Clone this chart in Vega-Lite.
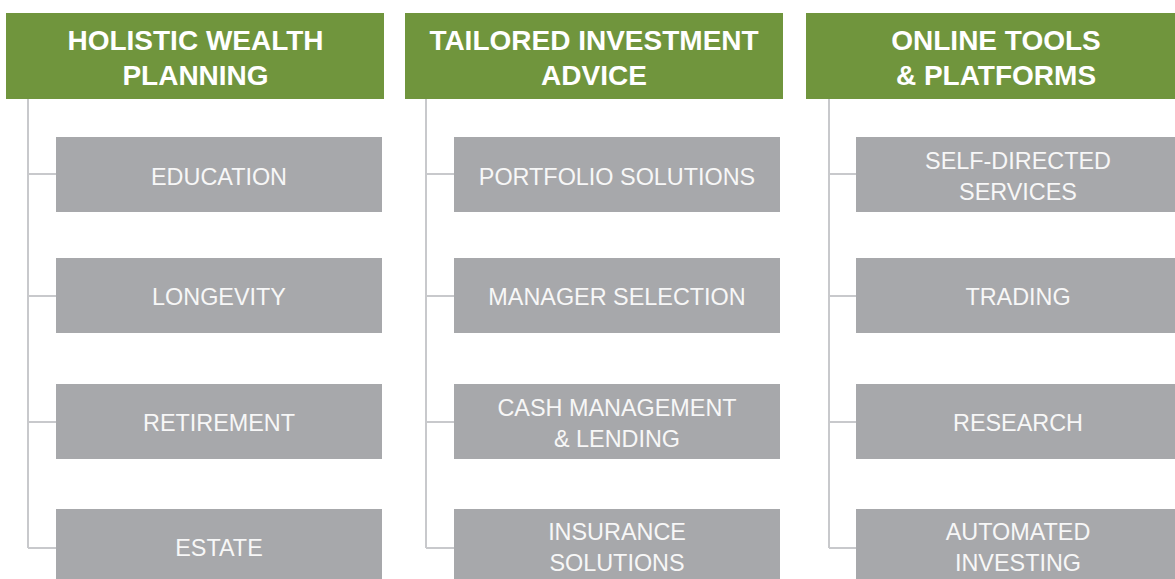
{
  "$schema": "https://vega.github.io/schema/vega-lite/v6.json",
  "width": 1175,
  "height": 579,
  "autosize": {"type": "fit", "contains": "padding"},
  "padding": 0,
  "background": "white",
  "config": {"view": {"stroke": null}},
  "datasets": {
    "headers": [
      {"label": "HOLISTIC WEALTH|PLANNING", "x": 6, "x2": 384, "y": 13, "y2": 99, "cx": 195.5, "cy": 42},
      {"label": "TAILORED INVESTMENT|ADVICE", "x": 405, "x2": 783, "y": 13, "y2": 99, "cx": 594, "cy": 42},
      {"label": "ONLINE TOOLS|& PLATFORMS", "x": 806, "x2": 1175, "y": 13, "y2": 99, "cx": 996, "cy": 42}
    ],
    "boxes": [
      {"label": "EDUCATION", "x": 56, "x2": 382, "y": 137, "y2": 212, "cx": 219, "cy": 177.5},
      {"label": "LONGEVITY", "x": 56, "x2": 382, "y": 258, "y2": 333, "cx": 219, "cy": 297.5},
      {"label": "RETIREMENT", "x": 56, "x2": 382, "y": 384, "y2": 459, "cx": 219, "cy": 423.5},
      {"label": "ESTATE", "x": 56, "x2": 382, "y": 509, "y2": 579, "cx": 219, "cy": 548.5},
      {"label": "PORTFOLIO SOLUTIONS", "x": 454, "x2": 780, "y": 137, "y2": 212, "cx": 617, "cy": 177.5},
      {"label": "MANAGER SELECTION", "x": 454, "x2": 780, "y": 258, "y2": 333, "cx": 617, "cy": 297.5},
      {"label": "CASH MANAGEMENT|& LENDING", "x": 454, "x2": 780, "y": 384, "y2": 459, "cx": 617, "cy": 408.5},
      {"label": "INSURANCE|SOLUTIONS", "x": 454, "x2": 780, "y": 509, "y2": 579, "cx": 617, "cy": 532.5},
      {"label": "SELF-DIRECTED|SERVICES", "x": 856, "x2": 1175, "y": 137, "y2": 212, "cx": 1018, "cy": 162},
      {"label": "TRADING", "x": 856, "x2": 1175, "y": 258, "y2": 333, "cx": 1018, "cy": 297.5},
      {"label": "RESEARCH", "x": 856, "x2": 1175, "y": 384, "y2": 459, "cx": 1018, "cy": 423.5},
      {"label": "AUTOMATED|INVESTING", "x": 856, "x2": 1175, "y": 509, "y2": 579, "cx": 1018, "cy": 532.5}
    ],
    "lines": [
      {"x": 28, "x2": 28, "y": 99, "y2": 548},
      {"x": 28, "x2": 56, "y": 174, "y2": 174},
      {"x": 28, "x2": 56, "y": 296, "y2": 296},
      {"x": 28, "x2": 56, "y": 422, "y2": 422},
      {"x": 28, "x2": 56, "y": 548, "y2": 548},
      {"x": 426, "x2": 426, "y": 99, "y2": 548},
      {"x": 426, "x2": 454, "y": 174, "y2": 174},
      {"x": 426, "x2": 454, "y": 296, "y2": 296},
      {"x": 426, "x2": 454, "y": 422, "y2": 422},
      {"x": 426, "x2": 454, "y": 548, "y2": 548},
      {"x": 829, "x2": 829, "y": 99, "y2": 548},
      {"x": 829, "x2": 856, "y": 174, "y2": 174},
      {"x": 829, "x2": 856, "y": 296, "y2": 296},
      {"x": 829, "x2": 856, "y": 422, "y2": 422},
      {"x": 829, "x2": 856, "y": 548, "y2": 548}
    ]
  },
  "resolve": {"scale": {"x": "shared", "y": "shared"}},
  "layer": [
    {
      "data": {"name": "lines"},
      "mark": {"type": "rule", "color": "#C8C9CC", "strokeWidth": 2},
      "encoding": {
        "x": {"field": "x", "type": "quantitative", "scale": {"domain": [0, 1175], "nice": false, "zero": false}, "axis": null},
        "x2": {"field": "x2"},
        "y": {"field": "y", "type": "quantitative", "scale": {"domain": [0, 579], "nice": false, "zero": false, "reverse": true}, "axis": null},
        "y2": {"field": "y2"}
      }
    },
    {
      "data": {"name": "headers"},
      "mark": {"type": "rect", "color": "#70953D"},
      "encoding": {
        "x": {"field": "x", "type": "quantitative", "axis": null},
        "x2": {"field": "x2"},
        "y": {"field": "y", "type": "quantitative", "axis": null},
        "y2": {"field": "y2"}
      }
    },
    {
      "data": {"name": "boxes"},
      "mark": {"type": "rect", "color": "#A7A8AB"},
      "encoding": {
        "x": {"field": "x", "type": "quantitative", "axis": null},
        "x2": {"field": "x2"},
        "y": {"field": "y", "type": "quantitative", "axis": null},
        "y2": {"field": "y2"}
      }
    },
    {
      "data": {"name": "headers"},
      "mark": {"type": "text", "color": "white", "font": "Liberation Sans", "fontWeight": "bold", "fontSize": 28, "lineBreak": "|", "lineHeight": 35, "align": "center", "baseline": "middle"},
      "encoding": {
        "x": {"field": "cx", "type": "quantitative", "axis": null},
        "y": {"field": "cy", "type": "quantitative", "axis": null},
        "text": {"field": "label"}
      }
    },
    {
      "data": {"name": "boxes"},
      "mark": {"type": "text", "color": "#F7F7F7", "font": "Liberation Sans", "fontSize": 23.4, "lineBreak": "|", "lineHeight": 31, "align": "center", "baseline": "middle"},
      "encoding": {
        "x": {"field": "cx", "type": "quantitative", "axis": null},
        "y": {"field": "cy", "type": "quantitative", "axis": null},
        "text": {"field": "label"}
      }
    }
  ]
}
